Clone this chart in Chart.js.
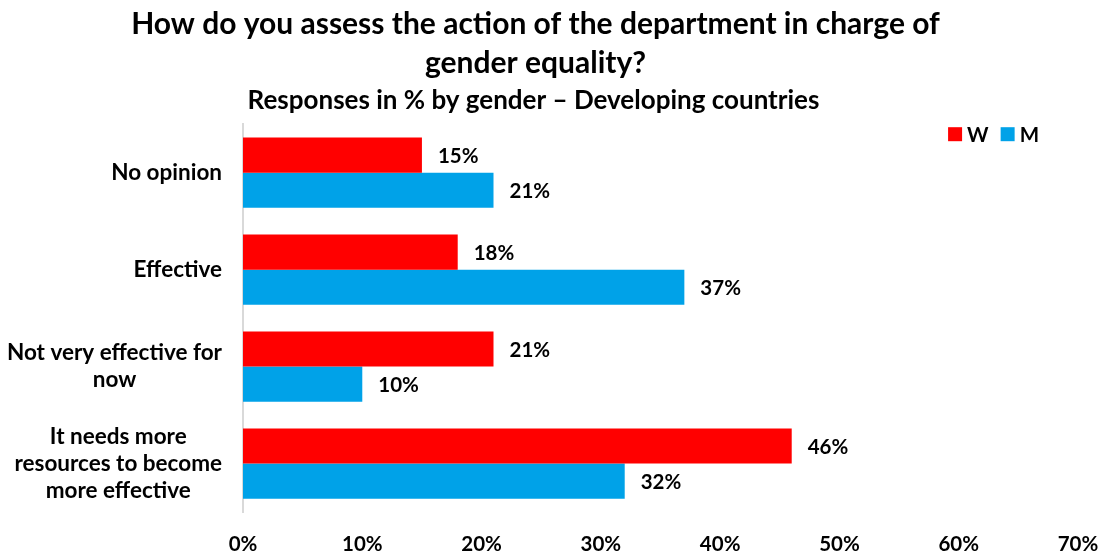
<!DOCTYPE html>
<html>
<head>
<meta charset="utf-8">
<script src="https://cdn.jsdelivr.net/npm/chart.js@4.4.1/dist/chart.umd.min.js"></script>
<style>
  body { margin: 0; background: #fff; }
</style>
</head>
<body>
<canvas id="chart" width="1101" height="553"></canvas>
<script>
const categories = [
    ['No opinion'],
    ['Effective'],
    ['Not very effective for', 'now'],
    ['It needs more', 'resources to become', 'more effective']
];
const women = [15, 18, 21, 46];
const men = [21, 37, 10, 32];
const xTicks = [0, 10, 20, 30, 40, 50, 60, 70];

const FONT = 'Lato';

// value labels at the end of each bar
const barLabels = {
    id: 'barLabels',
    afterDatasetsDraw(chart) {
        const ctx = chart.ctx;
        ctx.save();
        ctx.font = 'bold 20.5px ' + FONT;
        ctx.fillStyle = '#000';
        ctx.textAlign = 'left';
        ctx.textBaseline = 'middle';
        chart.data.datasets.forEach((ds, i) => {
            chart.getDatasetMeta(i).data.forEach((bar, j) => {
                ctx.fillText(ds.data[j] + '%', bar.x + 16, bar.y + 1);
            });
        });
        ctx.restore();
    }
};

// category labels: block right-aligned, lines centred inside the block
const categoryLabels = {
    id: 'categoryLabels',
    afterDraw(chart) {
        const ctx = chart.ctx;
        const yScale = chart.scales.y;
        const lineH = 27;
        ctx.save();
        ctx.font = 'bold 22.5px ' + FONT;
        ctx.fillStyle = '#000';
        ctx.textAlign = 'center';
        ctx.textBaseline = 'middle';
        categories.forEach((lines, i) => {
            const w = Math.max(...lines.map(l => ctx.measureText(l).width));
            const cx = chart.chartArea.left - 21 - w / 2;
            const cy = yScale.getPixelForTick(i);
            lines.forEach((l, k) => {
                ctx.fillText(l, cx, cy + (k - (lines.length - 1) / 2) * lineH);
            });
        });
        ctx.restore();
    }
};

// small legend in the top-right corner of the plot
const keys = {
    id: 'keys',
    afterDraw(chart) {
        const ctx = chart.ctx;
        ctx.save();
        ctx.font = 'bold 20.5px ' + FONT;
        ctx.textBaseline = 'middle';
        ctx.textAlign = 'left';
        const box = 14, gapText = 5, gapItem = 12;
        const items = chart.data.datasets.map(ds => ({ text: ds.label, color: ds.backgroundColor, w: ctx.measureText(ds.label).width }));
        let total = 0;
        items.forEach((it, i) => { total += box + gapText + it.w + (i ? gapItem : 0); });
        let x = chart.chartArea.right - 39 - total;
        const cy = chart.chartArea.top + 10;
        items.forEach(it => {
            ctx.fillStyle = it.color;
            ctx.fillRect(x, cy - box / 2, box, box);
            x += box + gapText;
            ctx.fillStyle = '#000';
            ctx.fillText(it.text, x, cy + 1);
            x += it.w + gapItem;
        });
        ctx.restore();
    }
};

// the title block in the source is centred a little left of the canvas centre
const shiftTitles = {
    id: 'shiftTitles',
    afterLayout(chart) {
        chart.boxes.forEach(b => {
            if (b.options && typeof b.options.text !== 'undefined' && b.options.position === 'top') {
                b.right = b.left + (Array.isArray(b.options.text) ? 1071 : 1067);
            }
        });
    }
};

new Chart(document.getElementById('chart'), {
    type: 'bar',
    data: {
        labels: categories.map(c => c.join(' ')),
        datasets: [
            { label: 'W', data: women, backgroundColor: '#ff0000' },
            { label: 'M', data: men, backgroundColor: '#00a2e8' }
        ]
    },
    options: {
        indexAxis: 'y',
        responsive: false,
        animation: false,
        categoryPercentage: 0.725,
        barPercentage: 1.0,
        layout: { padding: 0 },
        plugins: {
            legend: { display: false },
            tooltip: { enabled: false },
            title: {
                display: true,
                text: ['How do you assess the action of the department in charge of', 'gender equality?'],
                color: '#000',
                font: { family: FONT, size: 30, weight: 'bold', lineHeight: 1.3 },
                padding: { top: 5, bottom: 0 }
            },
            subtitle: {
                display: true,
                text: 'Responses in % by gender \u2013 Developing countries',
                color: '#000',
                font: { family: FONT, size: 26, weight: 'bold', lineHeight: 1.2 },
                padding: { top: 2, bottom: 8 }
            }
        },
        scales: {
            x: {
                min: 0,
                max: 70,
                afterBuildTicks(scale) {
                    scale.ticks = xTicks.map(v => ({ value: v }));
                },
                afterFit(scale) {
                    scale.height = 41;
                    scale.paddingRight = 23;
                },
                grid: { display: false, drawTicks: false },
                border: { display: false },
                ticks: {
                    padding: 22,
                    color: '#000',
                    font: { family: FONT, size: 20.5, weight: 'bold', lineHeight: 1.0 },
                    callback: v => v + '%'
                }
            },
            y: {
                afterFit(scale) { scale.width = 243; },
                grid: { display: false, drawTicks: false },
                border: { display: true, color: '#d9d9d9', width: 2 },
                ticks: { display: false }
            }
        }
    },
    plugins: [barLabels, categoryLabels, keys, shiftTitles]
});
</script>
</body>
</html>
